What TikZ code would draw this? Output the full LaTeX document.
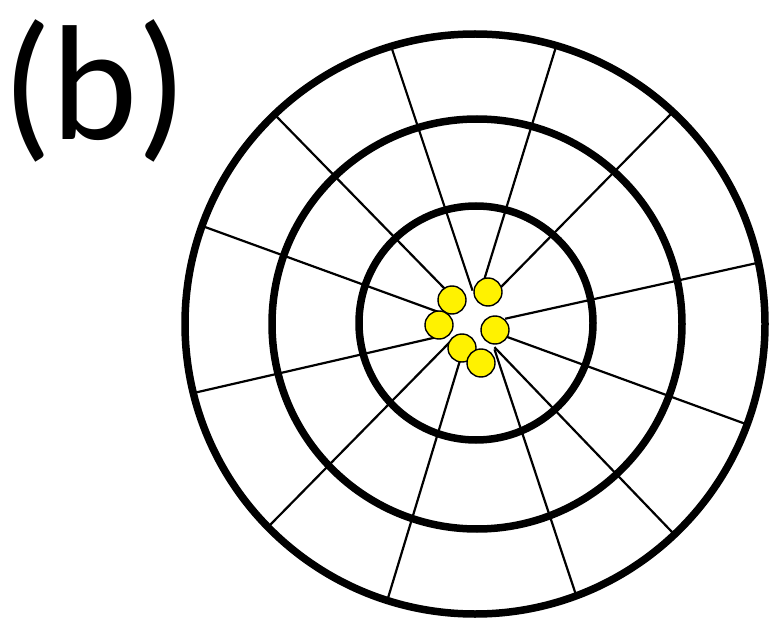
\documentclass[tikz,border=0pt]{standalone}
\usepackage{fontspec}
\setmainfont{Carlito}
\usetikzlibrary{calc}
\begin{document}
\begin{tikzpicture}[x=1pt,y=-1pt,
  ring/.style={draw=black,line width=7.5pt},
  spoke/.style={draw=black,line width=2.2pt},
  ion/.style={circle,draw=black,line width=1.4pt,fill=yellow,minimum size=28pt,inner sep=0pt}]
\useasboundingbox (0,0) rectangle (769,623);
\coordinate (O) at (475,324);
% spoke ends (outer guide, inner end)
\foreach \n/\ox/\oy/\ix/\iy in {A/393/52/470/283, B/278/118/443/287, C/205/227/433/310,
  D/555/50/485/277, E/670/115/505/283, F/757/263/513/317,
  G/198/392/433/338, H/272/523/447/345, I/388/598/458/367,
  J/743/423/510/338, K/672/532/500/353, L/575/592/497/357}{
  \coordinate (\n o) at (\ox,\oy);
  \coordinate (\n i) at (\ix,\iy);
}
\begin{scope}
  \clip (O) circle (290);
  \foreach \n in {A,B,C,D,E,F,G,H,I,J,K,L}{
    \draw[spoke] ($(\n i)!-8pt!(\n o)$) -- ($(\n i)!1.3!(\n o)$);
  }
\end{scope}
\draw[ring] (O) circle (290);
\draw[ring] (477,324) circle (205);
\draw[ring] (476,323) circle (117);
\node[ion] (c1) at (452,300) {};
\node[ion] (c2) at (488,292) {};
\node[ion] (c3) at (439,325) {};
\node[ion] (c4) at (495,330) {};
\node[ion] (c5) at (462,348) {};
\node[ion] (c6) at (481,363) {};
\node[anchor=base west,inner sep=0pt,font=\fontsize{164}{164}\selectfont] (lbl) at (2,140) {(b)};
\end{tikzpicture}
\end{document}
